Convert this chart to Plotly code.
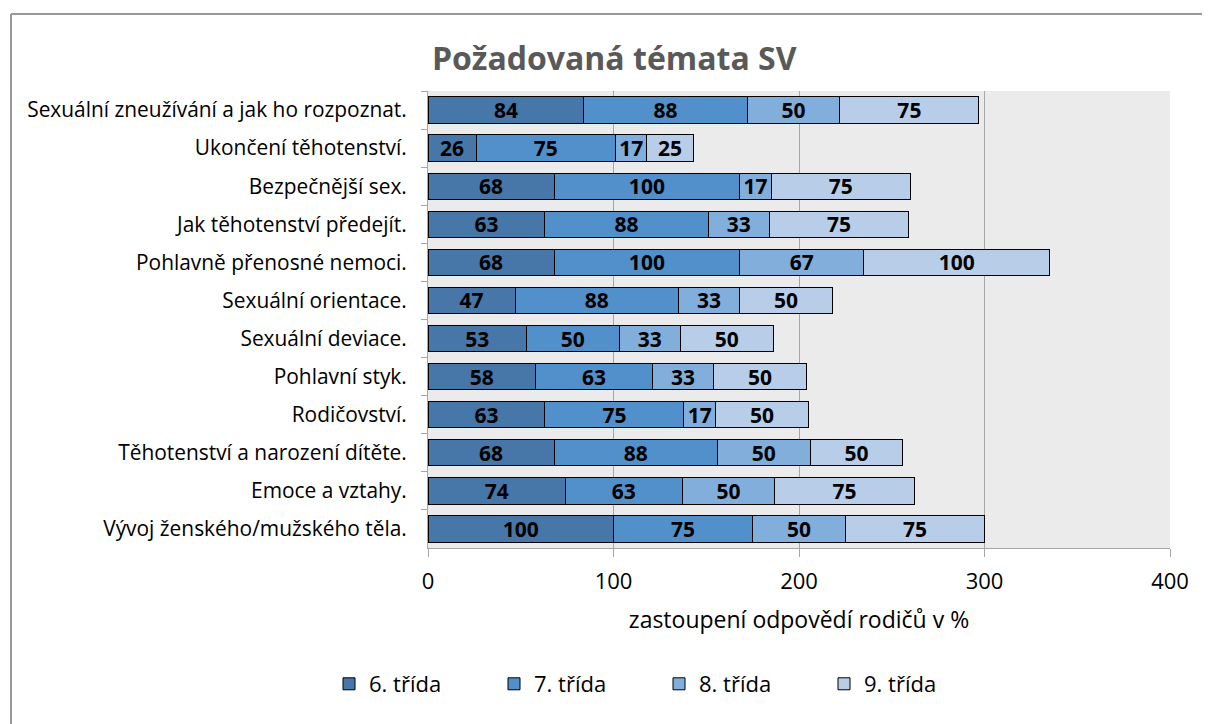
import plotly.graph_objects as go

categories = [
    "Sexuální zneužívání a jak ho rozpoznat.",
    "Ukončení těhotenství.",
    "Bezpečnější sex.",
    "Jak těhotenství předejít.",
    "Pohlavně přenosné nemoci.",
    "Sexuální orientace.",
    "Sexuální deviace.",
    "Pohlavní styk.",
    "Rodičovství.",
    "Těhotenství a narození dítěte.",
    "Emoce a vztahy.",
    "Vývoj ženského/mužského těla.",
]
trida6 = [84, 26, 68, 63, 68, 47, 53, 58, 63, 68, 74, 100]
trida7 = [88, 75, 100, 88, 100, 88, 50, 63, 75, 88, 63, 75]
trida8 = [50, 17, 17, 33, 67, 33, 33, 33, 17, 50, 50, 50]
trida9 = [75, 25, 75, 75, 100, 50, 50, 50, 50, 50, 75, 75]
series_names = ["6. třída", "7. třída", "8. třída", "9. třída"]
colors = ["#4677a8", "#5290cb", "#82aedc", "#b8cde8"]

font = "Open Sans"
fig = go.Figure()
for name, vals, col in zip(series_names, [trida6, trida7, trida8, trida9], colors):
    fig.add_trace(go.Bar(
        y=categories, x=vals, name=name, orientation="h",
        marker=dict(color=col, line=dict(color="#000000", width=1)),
        text=[str(v) for v in vals], textposition="inside", textangle=0,
        insidetextanchor="middle", constraintext="none",
        textfont=dict(family=font, size=21, color="#000000", weight="bold"),
    ))

# plot area in figure coords (page minus 8px body margin): x 420.5..1162.5, y 83..540
L, R, T, B = 420, 48, 83, 184
PW, PH = 1210 - L - R, 724 - T - B

fig.update_layout(
    barmode="stack",
    bargap=0.31,
    width=1210, height=724,
    margin=dict(l=L, r=R, t=T, b=B),
    paper_bgcolor="#ffffff",
    plot_bgcolor="#ebebeb",
    title=dict(text="<b>Požadovaná témata SV</b>", x=0.501, xanchor="center",
               y=1 - 51 / 724, yanchor="middle",
               font=dict(family=font, size=32, color="#595959")),
    font=dict(family=font, size=20, color="#000000"),
    legend=dict(orientation="h", x=(651 - L) / PW, xanchor="center",
                y=(PH - (676 - T)) / PH, yanchor="middle",
                font=dict(family=font, size=22, color="#000000"),
                traceorder="normal", itemwidth=30, entrywidth=120),
    xaxis=dict(range=[0, 400], dtick=100, showgrid=True, gridcolor="#a6a6a6",
               gridwidth=1, zeroline=False, showline=True, linecolor="#a6a6a6",
               ticks="outside", ticklen=8, tickcolor="#a6a6a6", ticklabelstandoff=6,
               tickfont=dict(family=font, size=22, color="#000000"),
               title=dict(text="zastoupení odpovědí rodičů v %",
                          font=dict(family=font, size=23, color="#000000"), standoff=17)),
    yaxis=dict(autorange="reversed", showline=True, linecolor="#a6a6a6",
               ticks="outside", tickson="boundaries", ticklen=6, tickcolor="#a6a6a6",
               ticklabelstandoff=16,
               tickfont=dict(family=font, size=20.9, color="#000000")),
)
# outer chart frame (left and top edges visible)
bx = (3 - L) / PW
by = 1 + (T - 6) / PH
fig.add_shape(type="line", xref="paper", yref="paper", x0=bx, x1=bx, y0=by, y1=-2,
              line=dict(color="#999999", width=2))
fig.add_shape(type="line", xref="paper", yref="paper", x0=bx, x1=2, y0=by, y1=by,
              line=dict(color="#999999", width=2))
fig.write_html("out.html")
